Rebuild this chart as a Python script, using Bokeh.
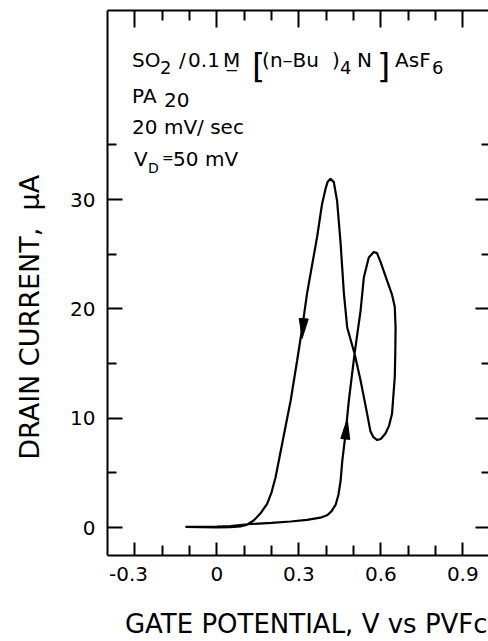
import math
from bokeh.plotting import figure
from bokeh.models import LinearAxis, FixedTicker, ColumnDataSource, CustomJSTickFormatter
from bokeh.core.properties import value
from bokeh.embed import file_html
from bokeh.resources import INLINE

# ---------------- data ----------------
potential = [-0.115, -0.05, 0.0, 0.05, 0.112, 0.2, 0.27, 0.33, 0.379, 0.405, 0.42,
             0.435, 0.445, 0.453, 0.459, 0.471, 0.483, 0.504, 0.526, 0.538, 0.556,
             0.574, 0.586, 0.599, 0.62, 0.641, 0.651, 0.654, 0.653, 0.651, 0.641,
             0.63, 0.617, 0.6, 0.587, 0.572, 0.562, 0.55, 0.526, 0.504, 0.477,
             0.465, 0.453, 0.44, 0.428, 0.416, 0.405, 0.398, 0.385, 0.367, 0.33,
             0.312, 0.294, 0.27, 0.239, 0.215, 0.2, 0.184, 0.16, 0.135, 0.11,
             0.087, 0.05, 0.0, -0.115]
current = [0.05, 0.05, 0.08, 0.12, 0.3, 0.42, 0.55, 0.7, 0.9, 1.15, 1.5,
           2.1, 3.0, 4.3, 6.1, 8.6, 11.6, 15.9, 19.85, 22.9, 24.7,
           25.2, 25.1, 24.3, 22.8, 21.3, 20.2, 18.3, 16.0, 13.75, 10.4,
           9.3, 8.6, 8.1, 8.0, 8.3, 8.8, 10.4, 13.45, 15.9, 18.3,
           21.4, 25.95, 29.9, 31.6, 31.9, 31.6, 31.0, 29.6, 26.6, 21.4,
           18.2, 15.3, 11.6, 7.66, 4.6, 3.2, 2.17, 1.3, 0.64, 0.25,
           0.1, 0.03, 0.02, 0.05]

# sweep-direction arrows (tip and base on the curve)
arrow_tip_x = [0.312, 0.477]
arrow_tip_y = [17.3, 9.9]
arrow_base_x = [0.318, 0.470]
arrow_base_y = [19.1, 8.1]

x_major = [-0.3, 0, 0.3, 0.6, 0.9]
x_minor = [-0.2, -0.1, 0.1, 0.2, 0.4, 0.5, 0.7, 0.8]
x_tick_labels = ["-0.3\u00a0\u00a0", "0", "0.3", "0.6", "0.9"]
y_major = [0, 10, 20, 30]
y_minor = [5, 15, 25, 35]
y_tick_labels = ["0", "10", "20", "30"]

x_title = "GATE POTENTIAL, V vs PVFc"
y_title = "DRAIN CURRENT,\u00a0 \u03bcA"

# ---------------- figure ----------------
X0, X1 = -0.4, 0.994
Y0, Y1 = -2.56, 47.3
FW, FH = 381, 545
FONT = "DejaVu Sans"

p = figure(width=488, height=641, x_range=(X0, X1), y_range=(Y0, Y1),
           output_backend="svg", toolbar_location=None,
           min_border_left=107, min_border_right=0, min_border_top=10,
           min_border_bottom=86, outline_line_color=None)
p.grid.visible = False


def style_axis(ax, major, minor, labels, t_in, m_in, show_labels, standoff=12):
    ax.ticker = FixedTicker(ticks=major, minor_ticks=minor)
    ax.major_tick_in = t_in
    ax.major_tick_out = 0
    ax.minor_tick_in = m_in
    ax.minor_tick_out = 0
    ax.major_tick_line_width = 2
    ax.minor_tick_line_width = 2
    ax.axis_line_width = 2
    ax.major_tick_line_color = "black"
    ax.minor_tick_line_color = "black"
    ax.axis_line_color = "black"
    if show_labels:
        ax.major_label_overrides = {k: v for k, v in zip(major, labels)}
        ax.major_label_text_font = FONT
        ax.major_label_text_font_size = "20px"
        ax.major_label_text_color = "black"
        ax.major_label_standoff = standoff
    else:
        ax.formatter = CustomJSTickFormatter(code="return ''")
        ax.major_label_text_font_size = "1px"
        ax.major_label_standoff = 0


xb = p.xaxis[0]
style_axis(xb, x_major, x_minor, x_tick_labels, 13, 10, True, standoff=6)
xb.axis_label = "\u00a0" * 2 + x_title
xb.axis_label_text_font = FONT
xb.axis_label_text_font_size = "26px"
xb.axis_label_text_font_style = "normal"
xb.axis_label_text_color = "black"
xb.axis_label_standoff = 20

yl = p.yaxis[0]
style_axis(yl, y_major, y_minor, y_tick_labels, 15, 9, True, standoff=12)
yl.axis_label = y_title + "\u00a0" * 8
yl.axis_label_text_font = FONT
yl.axis_label_text_font_size = "27px"
yl.axis_label_text_font_style = "normal"
yl.axis_label_text_color = "black"
yl.axis_label_standoff = 22

xt = LinearAxis()
style_axis(xt, x_major, x_minor, x_tick_labels, 17, 10, False)
p.add_layout(xt, "above")

yr = LinearAxis()
style_axis(yr, y_major, y_minor, y_tick_labels, 13, 7, False)
yr.axis_line_color = None
p.add_layout(yr, "right")

# ---------------- curve ----------------
p.line(potential, current, line_color="black", line_width=2.2)

# arrow heads
sx = FW / (X1 - X0)
sy = FH / (Y1 - Y0)
axs, ays = [], []
for tx, ty, bx, by in zip(arrow_tip_x, arrow_tip_y, arrow_base_x, arrow_base_y):
    dxp = (tx - bx) * sx
    dyp = (ty - by) * sy
    L = math.hypot(dxp, dyp)
    nx, ny = -dyp / L, dxp / L
    hw = 4.5
    axs.append([tx, bx + nx * hw / sx, bx - nx * hw / sx])
    ays.append([ty, by + ny * hw / sy, by - ny * hw / sy])
p.patches(axs, ays, fill_color="black", line_color="black", line_width=1)

# ---------------- annotation block ----------------
ann_x = -0.31
line_y = [42.73, 39.52, 36.6, 33.76]
pieces = [
    # (text, line, dx px, dy px, size px)
    ("SO", 0, 0, 0, 20), ("2", 0, 28, 7, 18), ("/", 0, 47, 0, 20), ("0.1", 0, 56, 0, 20),
    ("M\u0332", 0, 91, 0, 20), ("[", 0, 120, 6, 34), ("(n\u2013Bu", 0, 130, 0, 20),
    (")", 0, 200, 0, 20), ("4", 0, 208, 7, 18), ("N", 0, 225, 0, 20), ("]", 0, 245, 6, 34),
    ("AsF", 0, 263, 0, 20), ("6", 0, 300, 7, 18),
    ("PA", 1, 0, 0, 20), ("20", 1, 32, 4, 20),
    ("20 mV/ sec", 2, 0, 0, 20),
    ("V", 3, 2, 0, 20), ("D", 3, 16, 9, 14), ("=", 3, 30, -1, 14), ("50 mV", 3, 41, 0, 20),
]
src = ColumnDataSource(dict(
    x=[ann_x] * len(pieces),
    y=[line_y[pc[1]] for pc in pieces],
    text=[pc[0] for pc in pieces],
    dx=[pc[2] for pc in pieces],
    dy=[pc[3] for pc in pieces],
    fs=["%dpx" % pc[4] for pc in pieces],
))
p.text(x="x", y="y", text="text", x_offset="dx", y_offset="dy", text_font_size="fs",
       text_font=value(FONT), text_color="black", text_align="left",
       text_baseline="alphabetic", source=src)

open("out.html", "w").write(file_html(p, INLINE))
